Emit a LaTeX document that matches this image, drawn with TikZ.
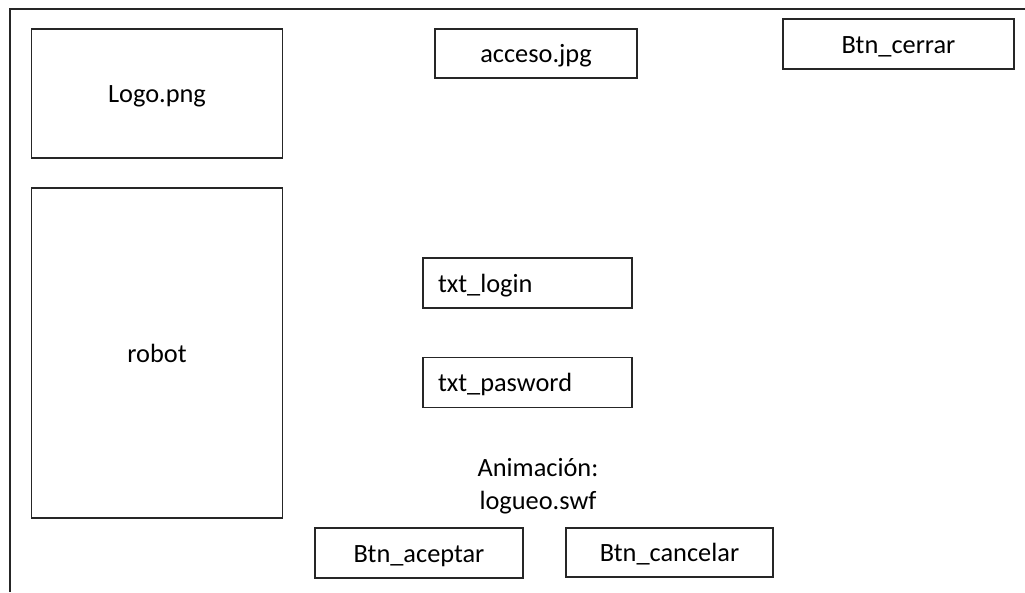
\documentclass[tikz,border=0pt]{standalone}
\usepackage{fontspec}
\setmainfont{Carlito}
\usetikzlibrary{positioning}

\begin{document}
\begin{tikzpicture}[x=0.02cm,y=-0.02cm,
	box/.style={draw=black!85,line width=0.7pt,inner sep=0pt,text height=13pt,text depth=2.2pt,font=\fontsize{15}{18}\selectfont},
	sz/.style 2 args={minimum width=#1*0.02cm,minimum height=#2*0.02cm},
	field/.style={box,inner xsep=0.3cm,text width=3.58cm,minimum height=1cm,align=left}]
	\useasboundingbox (0,0) rectangle (1025,592);
	\draw[draw=black!85,line width=0.7pt] (10,592) -- (10,9) -- (1025,9); 
	\node[box,sz={251}{129}] (logo) at (157,93.5) {Logo.png};
	\node[box,sz={251}{330}] (robot) at (157,353) {robot};
	\node[box,sz={202}{49}] (acceso) at (536,53.5) {acceso.jpg};
	\node[box,sz={231}{50}] (cerrar) at (898.5,44) {Btn\_cerrar};
	\node[field] (login) at (527.5,283) {txt\_login};
	\node[field] (pasword) at (527.5,382.5) {txt\_pasword};
	\node[font=\fontsize{15}{18.5}\selectfont,align=center] (anim) at (538,486) {Animación:\\logueo.swf};
	\node[box,sz={208}{50}] (aceptar) at (419,553) {Btn\_aceptar};
	\node[box,sz={207}{49}] (cancelar) at (669.5,552.5) {Btn\_cancelar};
\end{tikzpicture}
\end{document}
